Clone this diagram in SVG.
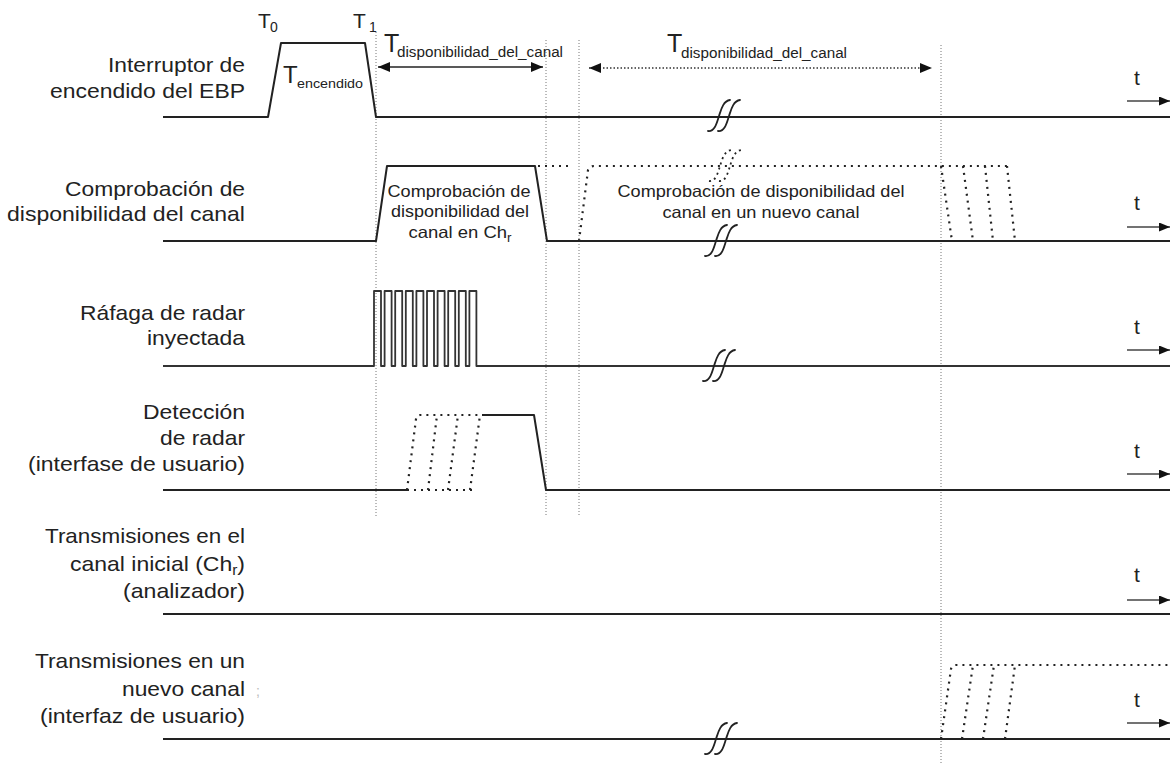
<svg xmlns="http://www.w3.org/2000/svg" xmlns:xlink="http://www.w3.org/1999/xlink" width="1170" height="765" viewBox="0 0 1170 765">
<style>
.bg{fill:#fff}
.sig{fill:none;stroke:#222;stroke-width:2;stroke-linejoin:round}
.burst{fill:none;stroke:#333;stroke-width:1.8;stroke-linejoin:round}
.dot{fill:none;stroke:#222;stroke-width:2.2;stroke-dasharray:2 5}
.guide{fill:none;stroke:#777;stroke-width:1;stroke-dasharray:1 2}
.brk{fill:none;stroke:#222;stroke-width:1.8;stroke-linecap:round}
.brkd{fill:none;stroke:#222;stroke-width:1.8;stroke-dasharray:2 3.5}
.txt{font-family:"Liberation Sans",Arial,sans-serif;fill:#222}
.lbl{font-size:21px;text-anchor:end}
.in{font-size:16.5px;text-anchor:middle}
.dim{fill:none;stroke:#222;stroke-width:1.3}
.dimd{fill:none;stroke:#333;stroke-width:1.3;stroke-dasharray:1.5 2}
.tax{fill:none;stroke:#444;stroke-width:1.5}
</style>
<defs>
<marker id="ah" viewBox="0 0 12 10" refX="12" refY="5" markerWidth="12" markerHeight="10" orient="auto-start-reverse" markerUnits="userSpaceOnUse"><path d="M0,0 L12,5 L0,10 z" fill="#111"/></marker>
<marker id="ta" viewBox="0 0 11 9" refX="11" refY="4.5" markerWidth="11" markerHeight="9" orient="auto" markerUnits="userSpaceOnUse"><path d="M0,0 L11,4.5 L0,9 z" fill="#111"/></marker>
<g id="brk"><path class="brk" d="M-17,15 C-10,16 -8,6 -6,0 S-2,-15 5,-16"/><path class="brk" d="M-7,15 C0,16 2,6 4,0 S8,-15 15,-16"/></g>
<g id="brkdot"><path class="brkd" d="M-17,15 C-10,16 -8,6 -6,0 S-2,-15 5,-16"/><path class="brkd" d="M-7,15 C0,16 2,6 4,0 S8,-15 15,-16"/></g>
</defs>
<rect class="bg" x="0" y="0" width="1170" height="765"/>

<g id="guides">
<line class="guide" x1="376" y1="32" x2="376" y2="517"/>
<line class="guide" x1="546" y1="40" x2="546" y2="517"/>
<line class="guide" x1="579" y1="40" x2="579" y2="517"/>
<line class="guide" x1="941" y1="45" x2="941" y2="765"/>
</g>

<g id="row1-interruptor">
<text class="txt lbl" x="245" y="72" textLength="137" lengthAdjust="spacingAndGlyphs">Interruptor de</text>
<text class="txt lbl" x="245" y="98" textLength="195" lengthAdjust="spacingAndGlyphs">encendido del EBP</text>
<path class="sig" d="M163,117 H268 L281,43 H365 L376,117 H1170"/>
<use xlink:href="#brk" x="725" y="116"/>
<text class="txt" x="258" y="28" font-size="21">T</text>
<text class="txt" x="270" y="32" font-size="14">0</text>
<text class="txt" x="353" y="28" font-size="21">T</text>
<text class="txt" x="369" y="32" font-size="14">1</text>
<text class="txt" x="283" y="83" font-size="24">T</text>
<text class="txt" x="297" y="88" font-size="13" textLength="66" lengthAdjust="spacingAndGlyphs">encendido</text>
<text class="txt" x="384" y="52" font-size="25">T</text>
<text class="txt" x="397" y="57" font-size="14" textLength="166" lengthAdjust="spacingAndGlyphs">disponibilidad_del_canal</text>
<text class="txt" x="667" y="52" font-size="25">T</text>
<text class="txt" x="681" y="58" font-size="14" textLength="166" lengthAdjust="spacingAndGlyphs">disponibilidad_del_canal</text>
<text class="txt" x="1134" y="85" font-size="21">t</text>
</g>

<g id="row2-comprobacion">
<text class="txt lbl" x="245" y="196" textLength="180" lengthAdjust="spacingAndGlyphs">Comprobación de</text>
<text class="txt lbl" x="245" y="221" textLength="238" lengthAdjust="spacingAndGlyphs">disponibilidad del canal</text>
<path class="sig" d="M163,241 H376 L387,166 H535 L547,241 H1170"/>
<path class="dot" d="M538,166 H570"/>
<path class="dot" d="M579,241 L588,170 Q590,166 594,166 H1007"/>
<path class="dot" d="M941,166 L952,241 M963,166 L973,241 M985,166 L993,241 M1007,166 L1015,241"/>
<use xlink:href="#brk" x="722" y="241"/>
<use xlink:href="#brkdot" x="726" y="166"/>
<text class="txt in" x="459" y="197" textLength="143" lengthAdjust="spacingAndGlyphs">Comprobación de</text>
<text class="txt in" x="460" y="217" textLength="138" lengthAdjust="spacingAndGlyphs">disponibilidad del</text>
<text class="txt in" x="460" y="238" textLength="103" lengthAdjust="spacingAndGlyphs">canal en Ch<tspan font-size="12" dy="4">r</tspan></text>
<text class="txt in" x="761" y="197" textLength="287" lengthAdjust="spacingAndGlyphs">Comprobación de disponibilidad del</text>
<text class="txt in" x="761" y="218" textLength="197" lengthAdjust="spacingAndGlyphs">canal en un nuevo canal</text>
<text class="txt" x="1134" y="210" font-size="21">t</text>
</g>

<g id="row3-rafaga">
<text class="txt lbl" x="245" y="320" textLength="165" lengthAdjust="spacingAndGlyphs">Ráfaga de radar</text>
<text class="txt lbl" x="245" y="345" textLength="98" lengthAdjust="spacingAndGlyphs">inyectada</text>
<path class="burst" d="M163,366 H374 V291 H381 V366 H384.6 V291 H391.6 V366 H395.2 V291 H402.2 V366 H405.8 V291 H412.8 V366 H416.4 V291 H423.4 V366 H427 V291 H434 V366 H437.6 V291 H444.6 V366 H448.2 V291 H455.2 V366 H458.8 V291 H465.8 V366 H469.4 V291 H476.4 V366 H1170"/>
<use xlink:href="#brk" x="720" y="366"/>
<text class="txt" x="1134" y="334" font-size="21">t</text>
</g>

<g id="row4-deteccion">
<text class="txt lbl" x="245" y="419" textLength="102" lengthAdjust="spacingAndGlyphs">Detección</text>
<text class="txt lbl" x="245" y="445" textLength="85" lengthAdjust="spacingAndGlyphs">de radar</text>
<text class="txt lbl" x="245" y="471" textLength="217" lengthAdjust="spacingAndGlyphs">(interfase de usuario)</text>
<path class="sig" d="M163,490 H407"/>
<path class="dot" d="M407,490 H473"/>
<path class="dot" d="M407,490 L416,419 Q417,415 420,415 H482"/>
<path class="dot" d="M428,490 L437,415 M448,490 L458,415 M470,490 L480,415"/>
<path class="sig" d="M482,415 H534 L546,490 H1170"/>
<text class="txt" x="1134" y="458" font-size="21">t</text>
</g>

<g id="row5-canal-inicial">
<text class="txt lbl" x="245" y="543" textLength="200" lengthAdjust="spacingAndGlyphs">Transmisiones en el</text>
<text class="txt lbl" x="245" y="571" textLength="175" lengthAdjust="spacingAndGlyphs">canal inicial (Ch<tspan font-size="14" dy="4">r</tspan><tspan dy="-4">)</tspan></text>
<text class="txt lbl" x="245" y="598" textLength="122" lengthAdjust="spacingAndGlyphs">(analizador)</text>
<path class="sig" d="M163,614 H1170"/>
<text class="txt" x="1134" y="582" font-size="21">t</text>
</g>

<g id="row6-nuevo-canal">
<text class="txt lbl" x="245" y="668" textLength="210" lengthAdjust="spacingAndGlyphs">Transmisiones en un</text>
<text class="txt lbl" x="245" y="696" textLength="123" lengthAdjust="spacingAndGlyphs">nuevo canal</text>
<text class="txt" x="256" y="696" font-size="14" fill="#bbb" style="fill:#bbb">;</text>
<text class="txt lbl" x="245" y="723" textLength="205" lengthAdjust="spacingAndGlyphs">(interfaz de usuario)</text>
<path class="sig" d="M163,739 H1170"/>
<path class="dot" d="M941,739 L951,669 Q952,665 956,665 H1170"/>
<path class="dot" d="M962,739 L973,665 M983,739 L994,665 M1005,739 L1015,665"/>
<use xlink:href="#brk" x="722" y="739"/>
<text class="txt" x="1134" y="707" font-size="21">t</text>
</g>

<g id="connectors">
<line class="dim" x1="378" y1="67" x2="543" y2="67" marker-start="url(#ah)" marker-end="url(#ah)"/>
<line class="dimd" x1="589" y1="68" x2="932" y2="68" marker-start="url(#ah)" marker-end="url(#ah)"/>
<line class="tax" x1="1127" y1="101" x2="1170" y2="101" marker-end="url(#ta)"/>
<line class="tax" x1="1127" y1="227" x2="1170" y2="227" marker-end="url(#ta)"/>
<line class="tax" x1="1127" y1="350" x2="1170" y2="350" marker-end="url(#ta)"/>
<line class="tax" x1="1127" y1="474" x2="1170" y2="474" marker-end="url(#ta)"/>
<line class="tax" x1="1127" y1="600" x2="1170" y2="600" marker-end="url(#ta)"/>
<line class="tax" x1="1127" y1="723" x2="1170" y2="723" marker-end="url(#ta)"/>
</g>
</svg>
